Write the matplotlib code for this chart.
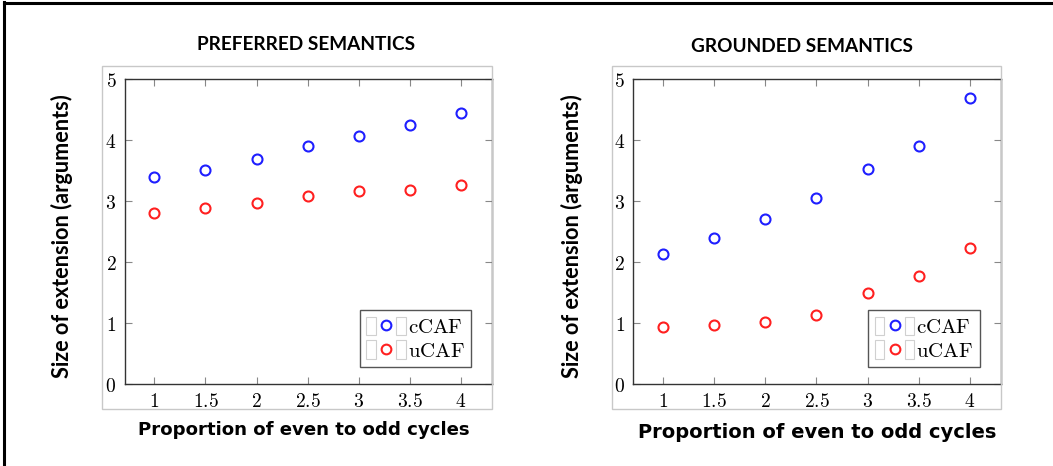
import matplotlib
matplotlib.use("Agg")
import matplotlib.pyplot as plt
from matplotlib.lines import Line2D
from matplotlib.patches import Rectangle
from matplotlib.legend_handler import HandlerTuple

plt.rcParams["mathtext.fontset"] = "cm"

# data
ratio = [1, 1.5, 2, 2.5, 3, 3.5, 4]
pref_ccaf = [3.40, 3.51, 3.70, 3.91, 4.07, 4.25, 4.45]
pref_ucaf = [2.80, 2.88, 2.97, 3.09, 3.17, 3.18, 3.27]
grnd_ccaf = [2.14, 2.39, 2.71, 3.05, 3.53, 3.91, 4.70]
grnd_ucaf = [0.94, 0.96, 1.01, 1.14, 1.49, 1.78, 2.23]

xtick_labels = ["1", "1.5", "2", "2.5", "3", "3.5", "4"]
ytick_vals = [0, 1, 2, 3, 4, 5]
titles = ["PREFERRED SEMANTICS", "GROUNDED SEMANTICS"]
series_names = ["cCAF", "uCAF"]

W, H = 1053, 466
fig = plt.figure(figsize=(W / 100, H / 100), dpi=100)

BLUE = "#1f1fff"
RED = "#ff2020"


def px_rect(x0, y0, x1, y1):
    """pixel box (top-left origin) -> figure fraction rect."""
    return [x0 / W, 1 - y1 / H, (x1 - x0) / W, (y1 - y0) / H]


def draw_panel(ax_box, frame_box, title, title_xy, ylab_x, xlab_xy, ccaf, ucaf, xlab_size):
    # light grey frame around the embedded picture
    fx0, fy0, fx1, fy1 = frame_box
    fig.add_artist(Rectangle((fx0 / W, 1 - fy1 / H), (fx1 - fx0) / W, (fy1 - fy0) / H,
                             transform=fig.transFigure, fill=False,
                             edgecolor="#c8c8c8", linewidth=1.0))

    ax = fig.add_axes(px_rect(*ax_box))
    ax.plot(ratio, ccaf, linestyle=" ", marker="o", markersize=7.2,
            markerfacecolor="none", markeredgecolor=BLUE, markeredgewidth=1.5)
    ax.plot(ratio, ucaf, linestyle=" ", marker="o", markersize=7.2,
            markerfacecolor="none", markeredgecolor=RED, markeredgewidth=1.5)

    ax.set_xlim(0.71, 4.3)
    ax.set_ylim(0, 5)
    ax.set_xticks(ratio)
    ax.set_xticklabels(["$%s$" % t for t in xtick_labels], fontsize=14)
    ax.set_yticks(ytick_vals)
    ax.set_yticklabels(["$%d$" % v for v in ytick_vals], fontsize=14)
    ax.tick_params(direction="in", length=5, width=0.8, color="#888888",
                   top=True, right=True, pad=6)
    for sp in ax.spines.values():
        sp.set_color("#333333")
        sp.set_linewidth(1.0)

    # legend with the odd glyph boxes of the original
    def box():
        return Rectangle((0, 0), 1, 1, facecolor="none", edgecolor="#d0d0d0", linewidth=0.8)

    h1 = (box(), Line2D([], [], linestyle=" ", marker="o", markersize=7,
                        markerfacecolor="none", markeredgecolor=BLUE, markeredgewidth=1.5), box())
    h2 = (box(), Line2D([], [], linestyle=" ", marker="o", markersize=7,
                        markerfacecolor="none", markeredgecolor=RED, markeredgewidth=1.5), box())
    x0, y0, x1, y1 = ax_box
    leg = ax.legend([h1, h2], [r"$\mathrm{%s}$" % s for s in series_names],
                    handler_map={tuple: HandlerTuple(ndivide=None, pad=0.25)},
                    loc="lower right",
                    bbox_to_anchor=((471 - 124.7) / (x1 - x0), (384 - 367) / (y1 - y0)),
                    borderaxespad=0, fontsize=15, handlelength=1.9, handleheight=1.0,
                    handletextpad=0.1, labelspacing=0.15, borderpad=0.3,
                    fancybox=False, framealpha=1, edgecolor="#555555")
    leg.get_frame().set_linewidth(1.0)

    fig.text(title_xy[0] / W, 1 - title_xy[1] / H, title, ha="center", va="center",
             fontsize=13.7, fontweight="bold", family="Lato")
    fig.text(ylab_x / W, 1 - 236 / H, "Size of extension (arguments)", rotation=90,
             ha="center", va="center", fontsize=15.6, fontweight="bold", family="Lato")
    fig.text(xlab_xy[0] / W, 1 - xlab_xy[1] / H, "Proportion of even to odd cycles",
             ha="center", va="center", fontsize=xlab_size, fontweight="bold",
             family="DejaVu Sans")
    return ax


draw_panel((124.7, 79.3, 491.7, 384), (101.7, 66, 491.7, 409), titles[0], (306, 44),
           62, (304, 430), pref_ccaf, pref_ucaf, 13.1)
draw_panel((633.3, 79.3, 1000.7, 384), (611.7, 66, 1001, 409), titles[1], (802, 46),
           572, (817, 432), grnd_ccaf, grnd_ucaf, 14.0)

# black page border on the left and top
fig.add_artist(Line2D([3.5 / W, 3.5 / W], [0, 1 - 2 / H], transform=fig.transFigure,
                      color="black", linewidth=2.2))
fig.add_artist(Line2D([3.5 / W, 1], [1 - 3 / H, 1 - 3 / H], transform=fig.transFigure,
                      color="black", linewidth=2.2))

fig.savefig("out.png", dpi=100)
